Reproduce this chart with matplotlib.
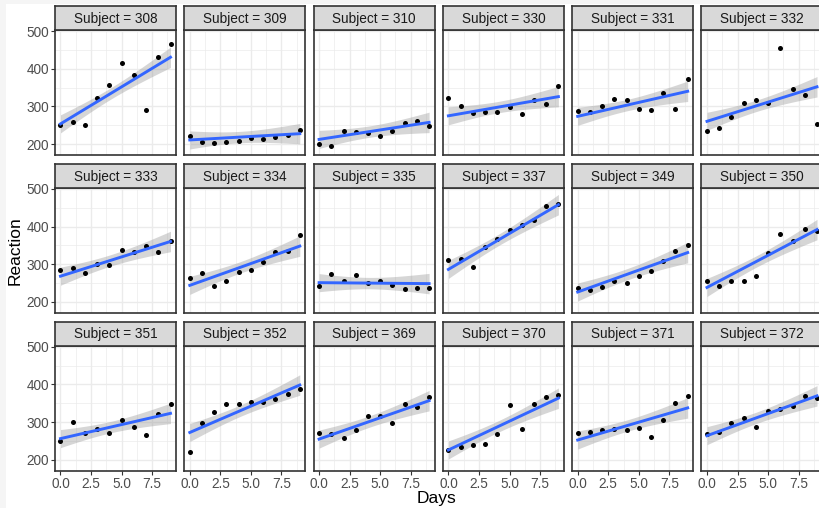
import numpy as np
import matplotlib
matplotlib.use("Agg")
import matplotlib.pyplot as plt
from matplotlib.patches import Rectangle

subjects = [308, 309, 310, 330, 331, 332, 333, 334, 335, 337, 349, 350,
            351, 352, 369, 370, 371, 372]
days = np.arange(10)
reaction = {
    308: [249.5600, 258.7047, 250.8006, 321.4398, 356.8519, 414.6901, 382.2038, 290.1486, 430.5853, 466.3535],
    309: [222.7339, 205.2658, 202.9778, 204.7070, 207.7161, 215.9618, 213.6303, 217.7272, 224.2957, 237.3142],
    310: [199.0539, 194.3322, 234.3200, 232.8416, 229.3074, 220.4579, 235.4208, 255.7511, 261.0125, 247.5153],
    330: [321.5426, 300.4002, 283.8565, 285.1330, 285.7973, 297.5855, 280.2396, 318.2613, 305.3495, 354.0487],
    331: [287.6079, 285.0000, 301.8206, 320.1153, 316.2773, 293.3187, 290.0750, 334.8177, 293.7469, 371.5811],
    332: [234.8606, 242.8118, 272.9613, 309.7688, 317.4629, 309.9976, 454.1619, 346.8311, 330.3003, 253.8644],
    333: [283.8424, 289.5550, 276.7693, 299.8097, 297.1710, 338.1665, 332.0265, 348.8399, 333.3600, 362.0428],
    334: [264.2518, 276.2012, 243.3647, 254.6723, 279.0244, 284.1912, 305.5248, 331.5229, 335.7469, 377.2990],
    335: [241.6083, 273.9472, 254.4907, 270.8021, 251.4519, 254.6362, 245.4523, 235.3110, 235.7541, 237.2466],
    337: [312.3666, 313.8058, 291.6112, 346.1222, 365.7324, 391.8385, 404.2601, 416.6923, 455.8643, 458.9167],
    349: [236.1032, 230.3167, 238.9256, 254.9220, 250.7103, 269.7744, 281.5648, 308.1020, 336.2806, 351.6451],
    350: [256.2968, 243.4543, 256.2046, 255.5271, 268.9165, 329.7247, 379.4445, 362.9184, 394.4872, 389.0527],
    351: [250.5265, 300.0576, 269.8939, 280.5891, 271.8274, 304.6336, 287.7466, 266.5955, 321.5418, 347.5655],
    352: [221.6771, 298.1939, 326.8785, 346.8555, 348.7402, 352.8287, 354.4266, 360.4326, 375.6406, 388.5417],
    369: [271.9235, 268.4369, 257.2424, 277.6566, 314.8222, 317.2135, 298.1353, 348.1229, 340.2800, 366.5131],
    370: [225.2640, 234.5235, 238.9008, 240.4730, 267.5373, 344.1937, 281.1481, 347.5855, 365.1630, 372.2288],
    371: [269.8804, 272.4428, 277.8989, 281.7895, 279.1705, 284.5120, 259.2658, 304.6306, 350.7807, 369.4692],
    372: [269.4117, 273.4740, 297.5968, 310.6316, 287.1726, 329.6076, 334.4818, 343.2199, 369.1417, 364.1236],
}
x_ticks = [0, 2.5, 5, 7.5]
x_tick_labels = ["0.0", "2.5", "5.0", "7.5"]
y_ticks = [200, 300, 400, 500]
y_tick_labels = ["200", "300", "400", "500"]

# mixed model variance components (Reaction ~ Days + (Days | Subject))
SD_INT, SD_SLOPE, CORR, SIGMA = 24.741, 5.922, 0.066, 25.592
Z975 = 1.96

# ---- Henderson mixed model equations -> BLUP lines and prediction error variance
ns = len(subjects)
Xrows, Zrows, yall = [], [], []
for i, s in enumerate(subjects):
    for d, v in zip(days, reaction[s]):
        xr = np.array([1.0, d])
        zr = np.zeros(2 * ns)
        zr[2 * i:2 * i + 2] = xr
        Xrows.append(xr)
        Zrows.append(zr)
        yall.append(v)
X = np.array(Xrows)
Z = np.array(Zrows)
yv = np.array(yall)
cov = CORR * SD_INT * SD_SLOPE
G0 = np.array([[SD_INT ** 2, cov], [cov, SD_SLOPE ** 2]])
Ginv = np.kron(np.eye(ns), np.linalg.inv(G0))
C = np.block([[X.T @ X, X.T @ Z], [Z.T @ X, Z.T @ Z + SIGMA ** 2 * Ginv]])
rhs = np.concatenate([X.T @ yv, Z.T @ yv])
sol = np.linalg.solve(C, rhs)
PEV = SIGMA ** 2 * np.linalg.inv(C)

W, H = 820, 508
fig = plt.figure(figsize=(W / 100, H / 100), dpi=100)
fig.patch.set_facecolor("white")
plt.rcParams["font.family"] = ["Liberation Sans", "DejaVu Sans"]

# faint screenshot frame on left and top edges
fig.patches.append(Rectangle((0, 0), 6 / W, 1, transform=fig.transFigure,
                             color="#F5F5F5", lw=0, zorder=-1))
fig.patches.append(Rectangle((0, 1 - 4 / H), 1, 4 / H, transform=fig.transFigure,
                             color="#F5F5F5", lw=0, zorder=-1))

ncol, nrow = 6, 3
left, pw, gap = 55, 121, 8.3
strip_top0, strip_h, panel_h, row_step = 6, 24, 125, 157.8

def fx(px):
    return px / W

def fy(py):
    return 1 - py / H

xg = np.linspace(0, 9, 80)
for i, s in enumerate(subjects):
    r, c = divmod(i, ncol)
    x0 = left + c * (pw + gap)
    st = strip_top0 + r * row_step
    pt = st + strip_h
    pb = pt + panel_h
    ax = fig.add_axes([fx(x0), fy(pb), pw / W, panel_h / H])
    y = np.array(reaction[s])
    L = np.zeros((len(xg), 2 + 2 * ns))
    L[:, 0] = 1
    L[:, 1] = xg
    L[:, 2 + 2 * i] = 1
    L[:, 3 + 2 * i] = xg
    yg = L @ sol
    se = np.sqrt(np.einsum("ij,jk,ik->i", L, PEV, L))
    ax.fill_between(xg, yg - Z975 * se, yg + Z975 * se, color="#999999",
                    alpha=0.4, lw=0, zorder=2)
    ax.scatter(days, y, s=13, color="black", zorder=3, lw=0)
    ax.plot(xg, yg, color="#3366FF", lw=2.1, zorder=4)
    ax.set_xlim(-0.45, 9.45)
    ax.set_ylim(171, 503)
    ax.set_xticks(x_ticks)
    ax.set_yticks(y_ticks)
    ax.set_xticks([1.25, 3.75, 6.25, 8.75], minor=True)
    ax.set_yticks([250, 350, 450], minor=True)
    ax.grid(True, which="major", color="#EBEBEB", lw=1.0, zorder=0)
    ax.grid(True, which="minor", color="#EBEBEB", lw=0.5, zorder=0)
    ax.set_axisbelow(True)
    ax.tick_params(which="minor", length=0)
    ax.tick_params(which="major", length=2.8, width=0.8, color="#333333",
                   labelsize=9.8, labelcolor="#4D4D4D", pad=1.5)
    if r == nrow - 1:
        ax.set_xticklabels(x_tick_labels)
    else:
        ax.tick_params(axis="x", which="major", length=0, labelbottom=False)
    if c == 0:
        ax.set_yticklabels(y_tick_labels)
    else:
        ax.tick_params(axis="y", which="major", length=0, labelleft=False)
    for sp in ax.spines.values():
        sp.set_color("#333333")
        sp.set_linewidth(1.2)
        sp.set_zorder(5)
    sax = fig.add_axes([fx(x0), fy(pt), pw / W, strip_h / H])
    sax.set_facecolor("#D9D9D9")
    sax.set_xticks([])
    sax.set_yticks([])
    for sp in sax.spines.values():
        sp.set_color("#333333")
        sp.set_linewidth(1.2)
    sax.text(0.5, 0.47, f"Subject = {s}", ha="center", va="center",
             fontsize=9.8, color="#1A1A1A", transform=sax.transAxes)

fig.text(fx(437), fy(499), "Days", ha="center",
         va="center", fontsize=12.5, color="black")
fig.text(fx(15), fy(251), "Reaction", ha="center", va="center", rotation=90,
         fontsize=12.5, color="black")

fig.savefig("out.png", dpi=100, facecolor="white")
